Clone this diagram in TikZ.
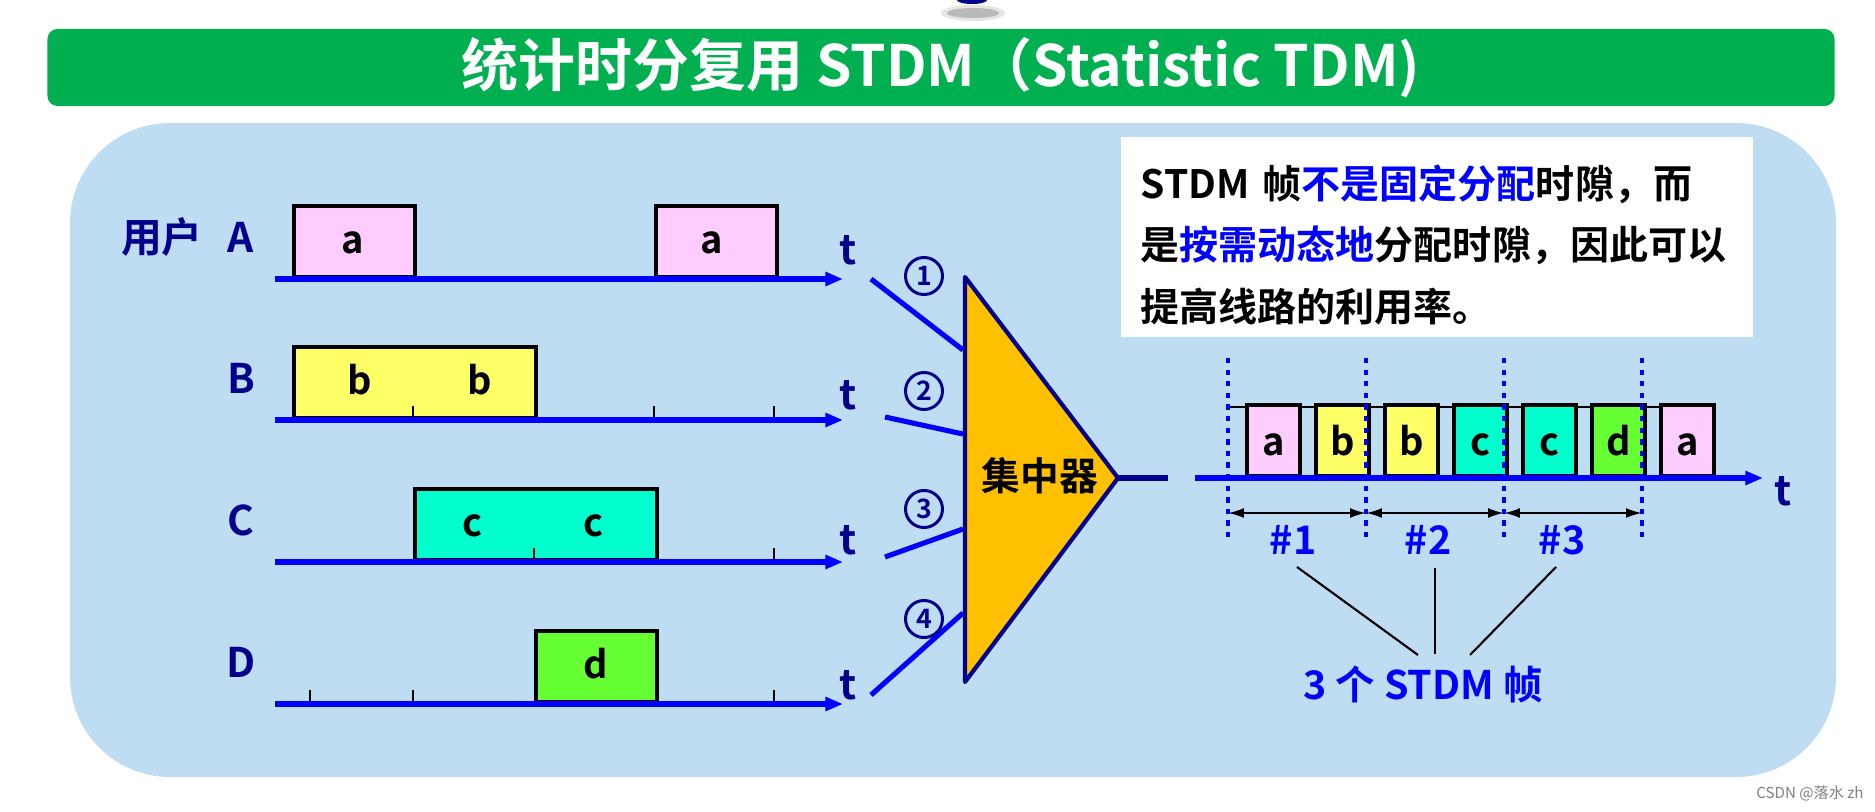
\documentclass[tikz,border=0pt]{standalone}
\usepackage{fontspec}
\setmainfont{Noto Sans CJK SC}[BoldFont={Noto Sans CJK SC Bold}]
\usetikzlibrary{positioning,arrows.meta,calc}
\usepackage{xcolor}

\definecolor{bannergreen}{RGB}{0,176,80}
\definecolor{panelblue}{RGB}{190,221,242}
\definecolor{navy}{RGB}{0,0,140}
\definecolor{pureblue}{RGB}{0,0,255}
\definecolor{slotpink}{RGB}{255,204,255}
\definecolor{slotyellow}{RGB}{255,255,102}
\definecolor{slotaqua}{RGB}{0,255,204}
\definecolor{slotgreen}{RGB}{102,255,51}
\definecolor{muxgold}{RGB}{255,192,0}

\begin{document}
\begin{tikzpicture}[x=0.01cm, y=-0.01cm, >=Stealth,
  every node/.style={inner sep=0pt, font=\bfseries},
  timeaxis/.style={pureblue, line width=1.45pt, -{Triangle[length=5pt,width=3.8pt]}},
  slotbox/.style={draw=black, line width=1.05pt, minimum height=71*0.01cm, anchor=south west},
  slotletter/.style={anchor=base, font=\bfseries\fontsize{10.8}{12}\selectfont},
  userlabel/.style={text=navy, font=\bfseries\fontsize{11.6}{13}\selectfont},
  tick/.style={black, line width=0.4pt},
  feeder/.style={pureblue, line width=1.45pt},
  portnum/.style={circle, draw=navy, line width=0.85pt, minimum size=0.37cm, text=navy,
    font=\bfseries\fontsize{7.6}{8}\selectfont},
  framesep/.style={pureblue, line width=1.4pt, dash pattern=on 1.5pt off 1.8pt},
  framespan/.style={black, line width=0.6pt, {Latex[length=4.5pt,width=2.8pt]}-{Latex[length=4.5pt,width=2.8pt]}},
  leader/.style={black, line width=0.6pt},
  bluetext/.style={text=pureblue, font=\bfseries\fontsize{11.2}{13}\selectfont}
]
\useasboundingbox (0,0) rectangle (1875,812);

% Top decoration
\fill[gray!20] (973,13) ellipse (32 and 8);
\fill[gray!55] (973,13) ellipse (26 and 5);
\fill[navy] (972,0) ellipse (15 and 4);

% Title banner
\node[fill=bannergreen, rounded corners=0.1cm, minimum width=17.86cm, minimum height=0.77cm,
  text=white, font=\bfseries\fontsize{16.2}{18}\selectfont] (title) at (941,67.5) {统计时分复用 STDM（Statistic TDM)};

% Background panel
\fill[panelblue, rounded corners=1cm] (70,123) rectangle (1836,777);

% Slots of users A--D
\foreach \name/\xl/\bw/\row/\col in {a1/292/121/279/slotpink, a2/654/121/279/slotpink,
    b1/292/242/420/slotyellow, c1/413/242/562/slotaqua, d1/534/121/704/slotgreen}
  \node[slotbox, fill=\col, minimum width=\bw*0.01cm] (\name) at (\xl,\row) {};

\foreach \name/\x/\row/\txt in {la1/353/279/a, la2/712/279/a, lb1/360/420/b, lb2/480/420/b,
    lc1/473/562/c, lc2/594/562/c, ld1/596/704/d}
  \node[slotletter] (\name) at (\x,\row-26) {\txt};

% Ticks
\foreach \x/\row in {413/420, 654/420, 774/420, 534/562, 774/562, 310/704, 413/704, 774/704}
  \draw[tick] (\x,\row) -- (\x,\row-14);

% Time axes
\node[userlabel] (user) at (162,237) {用户};
\foreach \u/\row/\ty in {A/279/250, B/420/395, C/562/540, D/704/685} {
  \coordinate (\u0) at (275,\row);
  \coordinate (\u1) at (843,\row);
  \draw[timeaxis] (\u0) -- (\u1);
  \node[userlabel] (lbl\u) at (241,\row-42) {\u};
  \node[userlabel] (t\u) at (848,\ty) {t};
}

% Concentrator
\coordinate (muxTop) at (965,277);
\coordinate (muxBot) at (965,682);
\coordinate (muxTip) at (1118,478);
\draw[navy, line width=1.2pt, fill=muxgold, line join=round] (muxTop) -- (muxTip) -- (muxBot) -- cycle;
\node[font=\bfseries\fontsize{11}{13}\selectfont] (mux) at (1040,476) {集中器};

% Input lines
\foreach \i/\xa/\ya/\yb/\ny in {1/871/279/350/276, 2/885/417/434/391,
    3/885/557/529/509, 4/871/695/613/619} {
  \coordinate (feed\i) at (\xa,\ya);
  \coordinate (port\i) at (963,\yb);
  \draw[feeder] (feed\i) -- (port\i);
  \node[portnum] (num\i) at (924,\ny) {\i};
}

% Output line
\coordinate (trunkEnd) at (1168,478);
\draw[navy, line width=1.7pt] (muxTip) -- (trunkEnd);

% STDM frames
\draw[black, line width=0.5pt] (1228,407) -- (1711,407);
\foreach \k/\col/\txt in {0/slotpink/a, 1/slotyellow/b, 2/slotyellow/b, 3/slotaqua/c,
    4/slotaqua/c, 5/slotgreen/d, 6/slotpink/a} {
  \node[slotbox, fill=\col, minimum width=53*0.01cm] (s\k) at (1245+69*\k,478) {};
  \node[slotletter] (sl\k) at ($(s\k.south)+(0,-23)$) {\txt};
}
\coordinate (R0) at (1195,478);
\coordinate (R1) at (1763,478);
\draw[timeaxis] (R0) -- (R1);
\node[userlabel] (tR) at (1783,491) {t};

\foreach \j/\x in {0/1228, 1/1366, 2/1504, 3/1642} {
  \coordinate (ftop\j) at (\x,358);
  \coordinate (fbot\j) at (\x,542);
  \coordinate (fmid\j) at (\x,513);
  \draw[framesep] (ftop\j) -- (fbot\j);
}
\draw[framespan] (fmid0) -- (fmid1);
\draw[framespan] (fmid1) -- (fmid2);
\draw[framespan] (fmid2) -- (fmid3);
\node[bluetext] (n1) at (1293,540) {\#1};
\node[bluetext] (n2) at (1428,540) {\#2};
\node[bluetext] (n3) at (1562,540) {\#3};

% Three frames label
\node[bluetext] (frames) at (1423,685) {3 个 STDM 帧};
\coordinate (lead1) at (1297,567);
\coordinate (lead2) at (1435,568);
\coordinate (lead3) at (1556,567);
\coordinate (foot1) at (1418,655);
\coordinate (foot2) at (1435,654);
\coordinate (foot3) at (1470,655);
\foreach \i in {1,2,3}
  \draw[leader] (lead\i) -- (foot\i);

% Explanation box
\node[fill=white, minimum width=6.32cm, minimum height=2cm, anchor=north west] (infobox) at (1120,136) {};
\node[anchor=base west, align=left, text width=6cm, font=\bfseries\fontsize{11.1}{17.6}\selectfont] (info) at (1140,198)
  {STDM 帧\textcolor{pureblue}{不是固定分配}时隙，而\\
   是\textcolor{pureblue}{按需动态地}分配时隙，因此可以\\
   提高线路的利用率。};

% Watermark
\node[font=\fontsize{4.3}{5}\selectfont, text=gray] (mark) at (1810,793) {CSDN @落水 zh};

\end{tikzpicture}
\end{document}
